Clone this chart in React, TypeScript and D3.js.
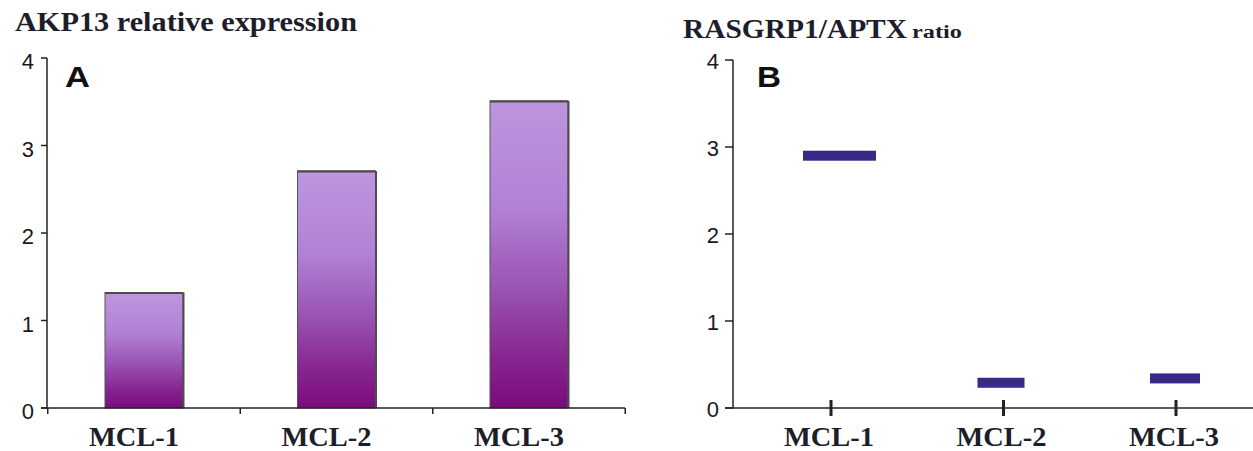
import React from "react";
import * as d3 from "d3";

// Panel A: AKP13 relative expression per cell line
const categories = ["MCL-1", "MCL-2", "MCL-3"];
const akp13Values = [1.32, 2.71, 3.51];
// Panel B: RASGRP1/APTX ratio per cell line
const ratioValues = [2.9, 0.29, 0.34];
const yTicks = [0, 1, 2, 3, 4];

const W = 1253;
const H = 451;
const SERIF = "'Liberation Serif', 'Times New Roman', serif";
const SANS = "'Liberation Sans', Arial, sans-serif";
const TEXT = "#1d1d2b";

// marker extents (left, right) around each category position in panel B
const dashSpan: [number, number][] = [[-28, 45], [-26, 21], [-26, 24]];

export default function App() {
  const yA = d3.scaleLinear().domain([0, 4]).range([408, 58]);
  const yB = d3.scaleLinear().domain([0, 4]).range([408, 60]);

  const bandA = d3.scaleBand<string>().domain(categories).range([47.75, 625.25]);
  const xB = d3.scalePoint<string>().domain(categories).range([831, 1176]);

  const axisA = 47;
  const axisB = 733;
  const barW = 78;
  const dashH = 10;

  return (
    <svg width={W} height={H} style={{ position: "absolute", left: 0, top: 0, background: "#fff" }}>
      <defs>
        <linearGradient id="barGrad" x1="0" y1="0" x2="0" y2="1">
          <stop offset="0" stopColor="#bd96de" />
          <stop offset="0.35" stopColor="#b181d5" />
          <stop offset="0.6" stopColor="#9b55b6" />
          <stop offset="0.85" stopColor="#86238f" />
          <stop offset="1" stopColor="#7c0a7c" />
        </linearGradient>
      </defs>

      {/* ---------- Panel A ---------- */}
      <text x={15} y={31} fontFamily={SERIF} fontWeight="bold" fontSize={28} fill={TEXT}
        textLength={342} lengthAdjust="spacingAndGlyphs">AKP13 relative expression</text>
      <text x={65} y={87} fontFamily={SANS} fontWeight="bold" fontSize={29} fill="#111"
        textLength={25} lengthAdjust="spacingAndGlyphs">A</text>

      {categories.map((c, i) => {
        const cx = bandA(c)! + bandA.bandwidth() / 2;
        const x = cx - barW / 2;
        const y = yA(akp13Values[i]);
        const h = yA(0) - y;
        return (
          <g key={c}>
            <rect x={x} y={y} width={barW} height={h} fill="url(#barGrad)" stroke="#555" strokeWidth={1} />
            <line x1={x} x2={x + barW} y1={y + 0.5} y2={y + 0.5} stroke="#4a4a4a" strokeWidth={2} />
            <line x1={x + barW + 0.5} x2={x + barW + 0.5} y1={y} y2={yA(0)} stroke="#4d4d4d" strokeWidth={2} />
          </g>
        );
      })}

      <line x1={axisA} x2={axisA} y1={yA(4)} y2={yA(0)} stroke="#222" strokeWidth={1.5} />
      {yTicks.map((t) => (
        <g key={t}>
          <line x1={axisA - 6} x2={axisA} y1={yA(t)} y2={yA(t)} stroke="#222" strokeWidth={1.5} />
          <text x={34} y={yA(t) + 11} textAnchor="end" fontFamily={SANS} fontSize={22} fill="#1a1a1a">{t}</text>
        </g>
      ))}
      <line x1={axisA - 6} x2={625} y1={yA(0)} y2={yA(0)} stroke="#222" strokeWidth={1.5} />
      {[...categories.map((c) => bandA(c)!), bandA.range()[1]].map((x, i) => (
        <line key={i} x1={x} x2={x} y1={yA(0)} y2={yA(0) + 6} stroke="#222" strokeWidth={1.5} />
      ))}
      {categories.map((c) => (
        <text key={c} x={bandA(c)! + bandA.bandwidth() / 2 - 10} y={446} textAnchor="middle"
          fontFamily={SERIF} fontWeight="bold" fontSize={27} fill={TEXT}
          textLength={90} lengthAdjust="spacingAndGlyphs">{c}</text>
      ))}

      {/* ---------- Panel B ---------- */}
      <text x={683} y={38} fontFamily={SERIF} fontWeight="bold" fontSize={27} fill={TEXT}
        textLength={224} lengthAdjust="spacingAndGlyphs">RASGRP1/APTX</text>
      <text x={912} y={38} fontFamily={SERIF} fontWeight="bold" fontSize={18} fill={TEXT}
        textLength={50} lengthAdjust="spacingAndGlyphs">ratio</text>
      <text x={757} y={87} fontFamily={SANS} fontWeight="bold" fontSize={29} fill="#111"
        textLength={24} lengthAdjust="spacingAndGlyphs">B</text>

      <line x1={axisB} x2={axisB} y1={yB(4)} y2={yB(0)} stroke="#222" strokeWidth={1.5} />
      {yTicks.map((t) => (
        <g key={t}>
          <line x1={axisB - 8} x2={axisB} y1={yB(t)} y2={yB(t)} stroke="#222" strokeWidth={1.5} />
          <text x={719} y={yB(t) + 9} textAnchor="end" fontFamily={SANS} fontSize={22} fill="#1a1a1a">{t}</text>
        </g>
      ))}
      <line x1={axisB - 8} x2={W} y1={yB(0)} y2={yB(0)} stroke="#222" strokeWidth={1.5} />
      {categories.map((c) => (
        <line key={c} x1={xB(c)!} x2={xB(c)!} y1={yB(0) - 8} y2={yB(0) + 8} stroke="#222" strokeWidth={3} />
      ))}
      {categories.map((c, i) => (
        <rect key={c} x={xB(c)! + dashSpan[i][0]} y={yB(ratioValues[i]) - dashH / 2}
          width={dashSpan[i][1] - dashSpan[i][0]} height={dashH} fill="#3a2987" />
      ))}
      {categories.map((c) => (
        <text key={c} x={xB(c)! - 2} y={446} textAnchor="middle"
          fontFamily={SERIF} fontWeight="bold" fontSize={27} fill={TEXT}
          textLength={90} lengthAdjust="spacingAndGlyphs">{c}</text>
      ))}
    </svg>
  );
}
